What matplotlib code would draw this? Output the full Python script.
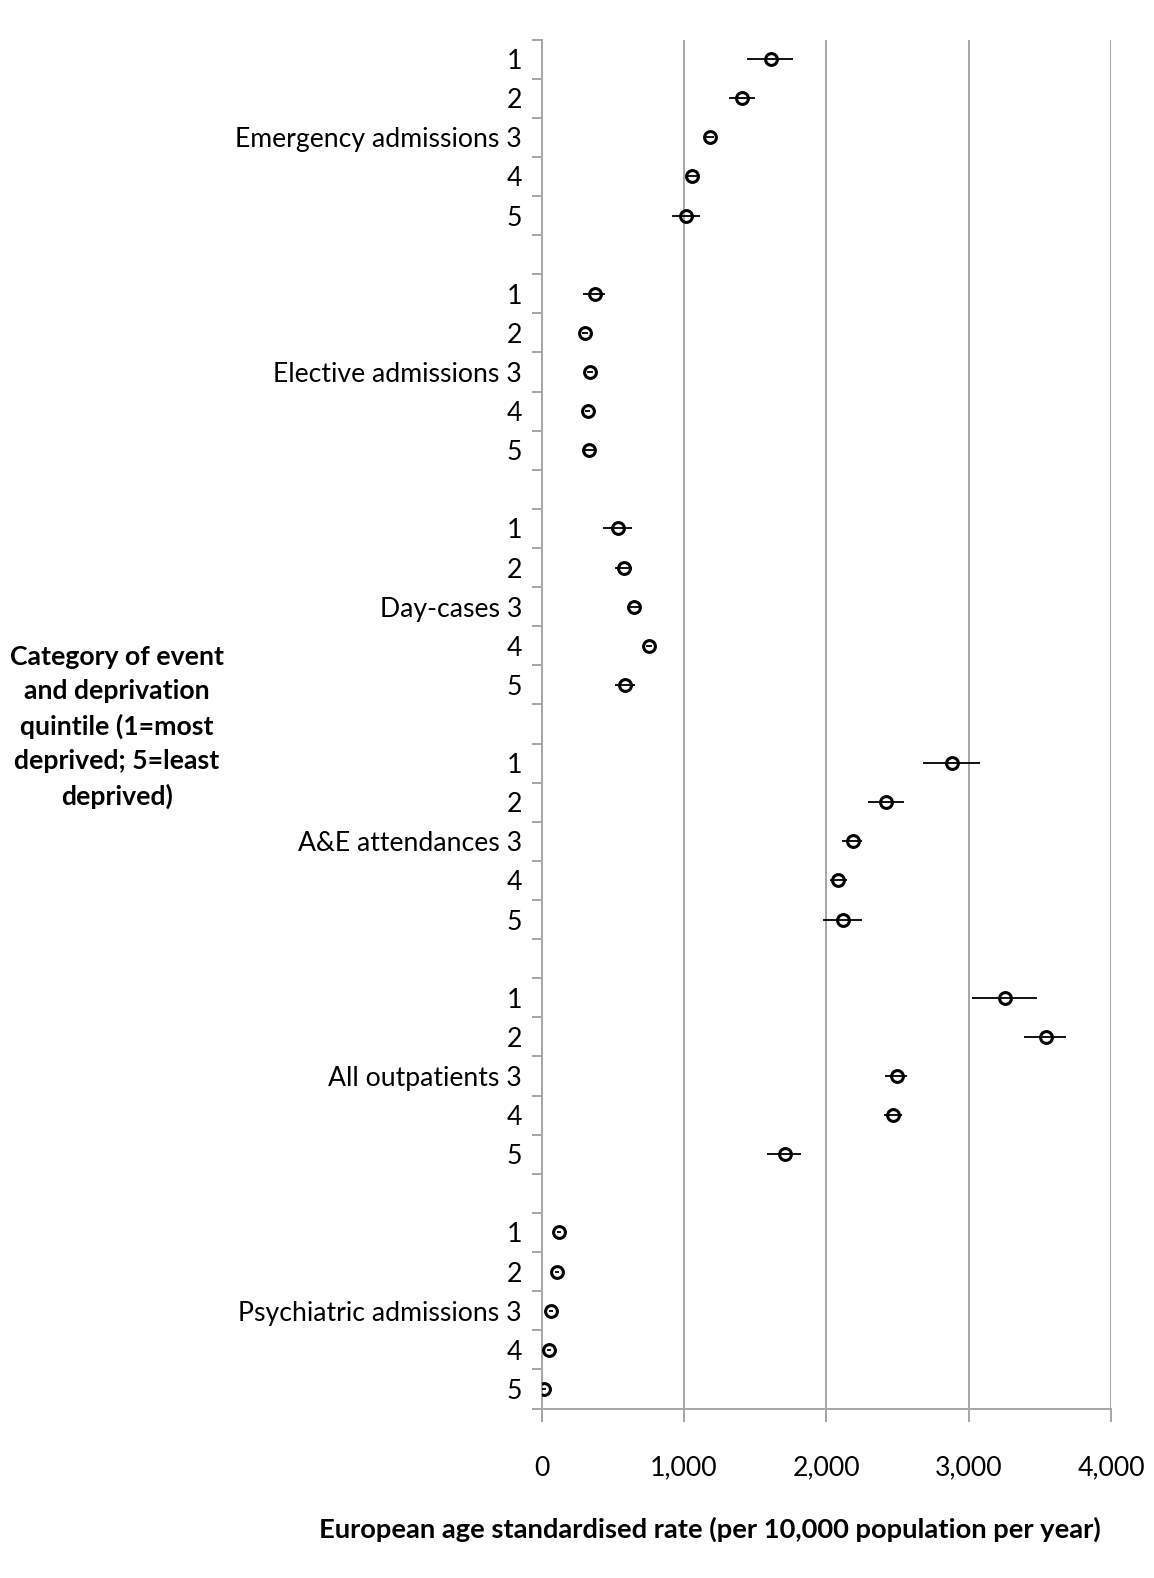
import matplotlib
matplotlib.use("Agg")
import matplotlib.pyplot as plt
import numpy as np

plt.rcParams["font.family"] = ["Lato", "DejaVu Sans"]

categories = ["Emergency admissions", "Elective admissions", "Day-cases",
              "A&E attendances", "All outpatients", "Psychiatric admissions"]
quintiles = ["1", "2", "3", "4", "5"]

# rate per 10,000 per year, with lower / upper confidence limits
rate = [
    [1611, 1405, 1180, 1054, 1014],
    [373, 305, 342, 324, 333],
    [537, 579, 649, 754, 588],
    [2886, 2420, 2186, 2086, 2116],
    [3258, 3540, 2497, 2467, 1707],
    [123, 111, 65, 53, 20],
]
lower = [
    [1440, 1314, 1150, 1026, 914],
    [291, 282, 322, 305, 282],
    [434, 514, 602, 734, 514],
    [2677, 2296, 2111, 2025, 1975],
    [3026, 3386, 2415, 2404, 1587],
    [108, 96, 50, 38, 5],
]
upper = [
    [1767, 1500, 1212, 1094, 1112],
    [448, 328, 362, 343, 382],
    [635, 637, 684, 774, 656],
    [3079, 2546, 2251, 2144, 2251],
    [3479, 3686, 2565, 2535, 1823],
    [138, 126, 80, 68, 35],
]
x_ticks = [0, 1000, 2000, 3000, 4000]

W, H = 1154, 1578
fig = plt.figure(figsize=(W / 100, H / 100), dpi=100)
ax = fig.add_axes([541.5 / W, 1 - 1408.5 / H, (1111 - 541.5) / W, (1408.5 - 39.5) / H])

grey = "#a6a6a6"
fs = 19.2
ypos, labels = [], []
for g, name in enumerate(categories):
    for q, ql in enumerate(quintiles):
        ypos.append(g * 6 + q)
        labels.append(f"{name} {ql}" if q == 2 else ql)

r = np.concatenate(rate)
lo = np.concatenate(lower)
hi = np.concatenate(upper)
ax.errorbar(r, ypos, xerr=[r - lo, hi - r], fmt="o", ms=8.5, mfc="none",
            mec="black", mew=2.2, ecolor="black", elinewidth=1.3, capsize=0, zorder=3)

ax.set_xlim(0, 4000)
ax.set_ylim(34.5, -0.5)

for x in x_ticks[1:]:
    ax.axvline(x, color=grey, lw=1.4, zorder=1)

for s in ("top", "right"):
    ax.spines[s].set_visible(False)
for s in ("left", "bottom"):
    ax.spines[s].set_color(grey)
    ax.spines[s].set_linewidth(1.4)

# tick marks sit between categories, labels on the rows
ax.set_yticks(np.arange(-0.5, 35, 1.0))
ax.set_yticklabels([])
ax.tick_params(axis="y", which="major", length=7, width=1.4, color=grey, direction="out")
ax.set_yticks(ypos, minor=True)
ax.set_yticklabels(labels, minor=True, fontsize=fs)
ax.tick_params(axis="y", which="minor", length=0, pad=14)

ax.set_xticks(x_ticks)
ax.set_xticklabels([f"{v:,}" for v in x_ticks], fontsize=fs)
ax.tick_params(axis="x", length=9, width=1.4, color=grey, direction="out", pad=25)

fig.text(117 / W, 1 - 727 / H,
         "Category of event\nand deprivation\nquintile (1=most\ndeprived; 5=least\ndeprived)",
         ha="center", va="center", fontsize=fs, fontweight="bold", linespacing=1.51)
fig.text(710 / W, 1 - 1529 / H,
         "European age standardised rate (per 10,000 population per year)",
         ha="center", va="center", fontsize=19.7, fontweight="bold")

fig.savefig("out.png", dpi=100, facecolor="white")
